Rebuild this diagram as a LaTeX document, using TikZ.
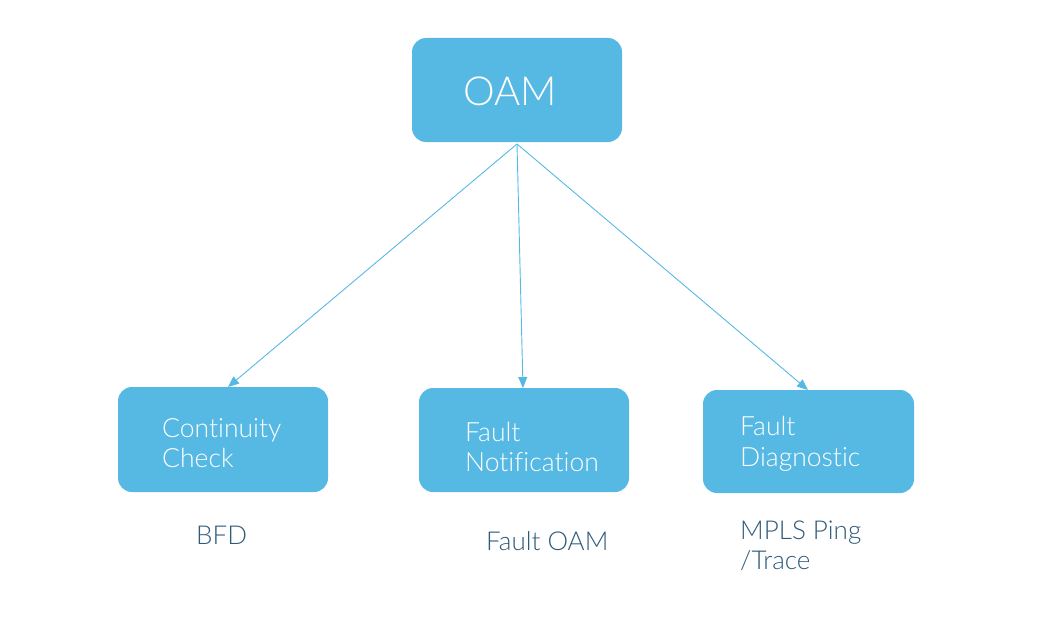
\documentclass[tikz,border=0pt]{standalone}
\usepackage{fontspec}
\setmainfont{Lato}[UprightFont=* Light,Ligatures=NoCommon]
\usetikzlibrary{arrows.meta}
\definecolor{boxblue}{HTML}{56B9E4}
\definecolor{labblue}{HTML}{2E5A7A}
\begin{document}
\begin{tikzpicture}[x=1pt,y=-1pt,
  box/.style={fill=boxblue,rounded corners=14pt,draw=none},
  boxtext/.style={text=white,font=\fontsize{26.5}{30.5}\selectfont,align=left,inner sep=0pt,anchor=west},
  lab/.style={text=labblue,font=\fontsize{26}{30}\selectfont,align=left,inner sep=0pt,anchor=west},
  conn/.style={draw=boxblue,line width=0.9pt,-{Triangle[length=11pt,width=9pt]}}]
\useasboundingbox (0,0) rectangle (1040,618);
\path[box] (412,38) rectangle (622,142);
\node[inner sep=0pt,text=white,font=\fontsize{40}{48}\selectfont] (oam) at (510,91) {OAM};
\coordinate (top) at (517,144);
\path[box] (118,387) rectangle (328,492);
\node[boxtext] (cc) at (162,443) {Continuity\\Check};
\path[box] (419,388) rectangle (629,492);
\node[boxtext] (fn) at (465,447) {Fault\\Notification};
\path[box] (703,390) rectangle (914,493);
\node[boxtext] (fd) at (740,444) {Fault\\Diagnostic};
\coordinate (ccin) at (228,387);
\coordinate (fnin) at (523,388);
\coordinate (fdin) at (808,390);
\draw[conn] (top) -- (ccin);
\draw[conn] (top) -- (fnin);
\draw[conn] (top) -- (fdin);
\node[lab] (bfd) at (196,535) {BFD};
\node[lab] (foam) at (486,541) {Fault OAM};
\node[lab] (mpls) at (740,546) {MPLS Ping\\/Trace};
\end{tikzpicture}
\end{document}
